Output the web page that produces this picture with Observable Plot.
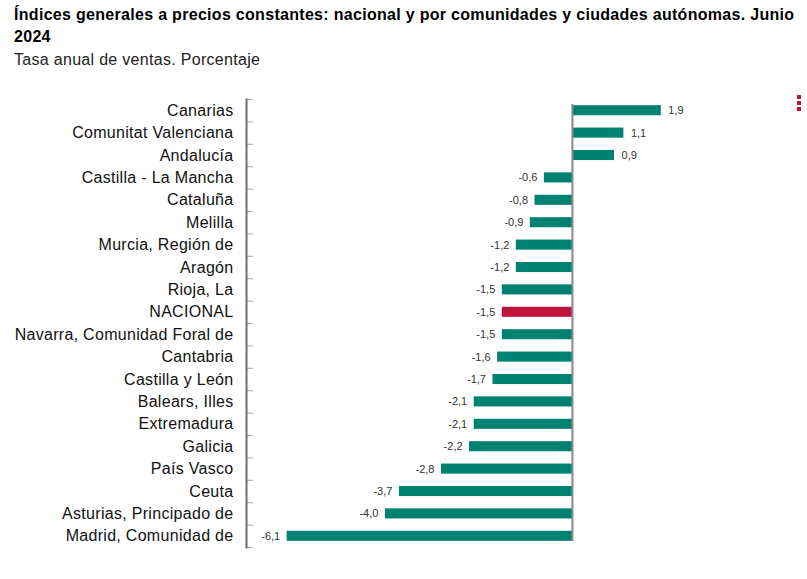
<!DOCTYPE html>
<html>
<head>
<meta charset="utf-8">
<script src="https://cdn.jsdelivr.net/npm/d3@7"></script>
<script src="https://cdn.jsdelivr.net/npm/@observablehq/plot@0.6"></script>
<style>
  html, body { margin: 0; padding: 0; background: #fff; overflow: hidden; }
  body { font-family: "Liberation Sans", Arial, sans-serif; color: #000; position: relative; width: 807px; height: 579px; }
  #title { position: absolute; left: 14px; top: 4px; width: 788px; font-size: 16px; letter-spacing: 0.3px; font-weight: bold; line-height: 22px; }
  #subtitle { position: absolute; left: 14px; top: 50px; font-size: 16px; letter-spacing: 0.3px; line-height: 20px; color: #222; }
  #chart { position: absolute; left: 0; top: 72px; line-height: 0; }
  #chart g[aria-label="y-axis tick label"] text { letter-spacing: 0.3px; }
  #menu { position: absolute; left: 797px; top: 95px; }
  #menu span { display: block; width: 4px; height: 4px; background: #c0143c; margin-bottom: 2px; }
</style>
</head>
<body>
<div id="title">Índices generales a precios constantes: nacional y por comunidades y ciudades autónomas. Junio 2024</div>
<div id="subtitle">Tasa anual de ventas. Porcentaje</div>
<div id="chart"></div>
<div id="menu"><span></span><span></span><span></span></div>
<script>
// Territorios, de arriba abajo, y su tasa anual (%)
const territorios = [
  "Canarias", "Comunitat Valenciana", "Andalucía", "Castilla - La Mancha",
  "Cataluña", "Melilla", "Murcia, Región de", "Aragón", "Rioja, La",
  "NACIONAL", "Navarra, Comunidad Foral de", "Cantabria", "Castilla y León",
  "Balears, Illes", "Extremadura", "Galicia", "País Vasco", "Ceuta",
  "Asturias, Principado de", "Madrid, Comunidad de"
];
const tasas = [
  1.9, 1.1, 0.9, -0.6, -0.8, -0.9, -1.2, -1.2, -1.5, -1.5,
  -1.5, -1.6, -1.7, -2.1, -2.1, -2.2, -2.8, -3.7, -4.0, -6.1
];
const total = "NACIONAL";

const data = territorios.map((t, i) => ({territorio: t, tasa: tasas[i]}));
const fmt = v => d3.format(".1f")(v).replace(".", ",").replace("−", "-");

const width = 807, height = 507;
const marginTop = 27, marginBottom = 32;
const step = (height - marginTop - marginBottom) / territorios.length;

const chart = Plot.plot({
  width, height,
  marginTop, marginBottom,
  marginLeft: 246, marginRight: 48,
  style: {fontFamily: "'Liberation Sans', Arial, sans-serif", background: "#fff"},
  x: {domain: [-6.97, 4.0], axis: null},
  y: {domain: territorios, paddingInner: 0.55, paddingOuter: 0.275, round: false, label: null},
  marks: [
    // Etiquetas de territorio
    Plot.axisY({tickSize: 0, tickPadding: 13, fontSize: 16, fill: "#111"}),
    // Marcas de separación entre categorías
    Plot.axisY({tickSize: -7, text: null, dy: step / 2, stroke: "#aaa"}),
    Plot.axisY({ticks: [territorios[0]], tickSize: -7, text: null, dy: -step / 2, stroke: "#aaa"}),
    Plot.frame({anchor: "left", stroke: "#6b6b6b", strokeWidth: 2}),
    Plot.barX(data, {
      x: "tasa", y: "territorio",
      fill: d => d.territorio === total ? "#c0143c" : "#008272"
    }),
    Plot.ruleX([0], {stroke: "#888", strokeWidth: 2, insetTop: 5, insetBottom: 6}),
    // Valores: a la derecha de las barras positivas, a la izquierda de las negativas
    Plot.text(data.filter(d => d.tasa >= 0), {
      x: "tasa", y: "territorio", text: d => fmt(d.tasa),
      textAnchor: "start", dx: 7, fontSize: 11, fill: "#333"
    }),
    Plot.text(data.filter(d => d.tasa < 0), {
      x: "tasa", y: "territorio", text: d => fmt(d.tasa),
      textAnchor: "end", dx: -7, fontSize: 11, fill: "#333"
    })
  ]
});
document.getElementById("chart").appendChild(chart);
</script>
</body>
</html>
